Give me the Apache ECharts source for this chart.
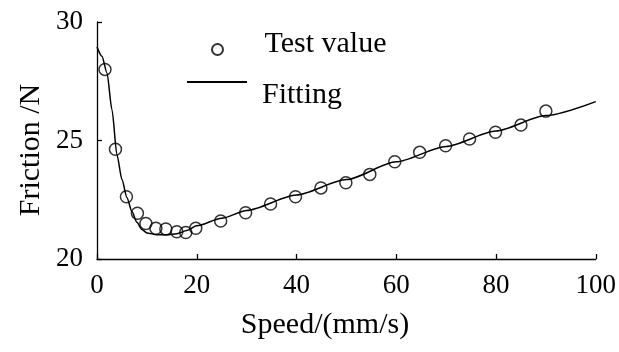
<!DOCTYPE html>
<html>
<head>
<meta charset="utf-8">
<script src="https://cdn.jsdelivr.net/npm/echarts@6/dist/echarts.min.js"></script>
<style>
  html, body { margin: 0; padding: 0; background: #fff; }
  #chart { width: 619px; height: 352px; }
</style>
</head>
<body>
<div id="chart"></div>
<script>
// Measured friction at each sliding speed
const testSpeed = [1.6, 3.7, 5.9, 8.1, 9.8, 11.8, 13.8, 16, 17.8, 19.8, 24.8, 29.8, 34.8, 39.8,
  44.9, 49.9, 54.7, 59.7, 64.7, 69.9, 74.7, 79.9, 85, 90];
const testFriction = [28.0, 24.63, 22.63, 21.93, 21.5, 21.3, 21.27, 21.15, 21.12, 21.3, 21.6, 21.95,
  22.32, 22.63, 23.0, 23.22, 23.57, 24.1, 24.5, 24.78, 25.06, 25.35, 25.65, 26.24];

// Fitted friction curve
const fitSpeed = [0, 1, 2, 3, 4, 5, 6, 7, 8, 9, 10, 12, 14, 16, 18, 20, 25, 30, 40, 50, 60, 70, 80, 90, 100];
const fitFriction = [28.95, 28.55, 27.85, 26.3, 24.4, 23.35, 22.6, 22.0, 21.55, 21.25, 21.1, 21.02,
  21.02, 21.07, 21.2, 21.4, 21.72, 22.05, 22.7, 23.35, 24.1, 24.75, 25.4, 26.05, 26.64];

const xTicks = [0, 20, 40, 60, 80, 100];
const yTicks = [20, 25, 30];

const serif = 'Liberation Serif';
const chart = echarts.init(document.getElementById('chart'), null, { renderer: 'canvas' });

// Legend label style; the padding sets where each key sits beside its label
function legendText(pad) {
  return {
    color: '#000', fontFamily: serif, fontSize: 30,
    rich: { t: { color: '#000', fontFamily: serif, fontSize: 30, padding: pad } }
  };
}

chart.setOption({
  animation: false,
  backgroundColor: '#fff',
  grid: { left: 97, right: 23, top: 22, bottom: 93 },
  xAxis: {
    type: 'value',
    min: xTicks[0], max: xTicks[xTicks.length - 1], interval: 20,
    axisLine: { lineStyle: { color: '#000', width: 1.3 } },
    axisTick: { inside: true, length: 5, lineStyle: { color: '#000', width: 1.3 } },
    axisLabel: { color: '#000', fontFamily: serif, fontSize: 27, margin: 13 },
    splitLine: { show: false }
  },
  yAxis: {
    type: 'value',
    min: yTicks[0], max: yTicks[yTicks.length - 1], interval: 5,
    axisLine: { show: true, lineStyle: { color: '#000', width: 1.3 } },
    axisTick: { show: true, inside: true, length: 5, lineStyle: { color: '#000', width: 1.3 } },
    axisLabel: { color: '#000', fontFamily: serif, fontSize: 27, margin: 14 },
    splitLine: { show: false }
  },
  legend: [
    {
      data: ['Test value'], left: 206, top: 24, orient: 'vertical',
      itemWidth: 60, itemHeight: 11, itemGap: 0,
      formatter: '{t|{name}}',
      textStyle: legendText([0, 0, 11, 12])
    },
    {
      data: [{ name: 'Fitting', icon: 'rect' }], left: 182, top: 75, orient: 'vertical',
      itemWidth: 60, itemHeight: 2, itemGap: 0,
      formatter: '{t|{name}}',
      textStyle: legendText([26, 0, 0, 10])
    }
  ],
  graphic: [
    {
      type: 'text', x: 325, y: 325,
      style: { text: 'Speed/(mm/s)', align: 'center', verticalAlign: 'middle',
        font: '30px "Liberation Serif"', fill: '#000' }
    },
    {
      type: 'text', rotation: Math.PI / 2, x: 31, y: 150,
      style: { text: 'Friction /N', align: 'center', verticalAlign: 'middle',
        font: '30px "Liberation Serif"', fill: '#000' }
    }
  ],
  series: [
    {
      name: 'Fitting', type: 'line', smooth: 0.25, smoothMonotone: 'x', symbol: 'none',
      data: fitSpeed.map((x, i) => [x, fitFriction[i]]),
      lineStyle: { color: '#000', width: 1.5 },
      itemStyle: { color: '#000' },
      z: 3
    },
    {
      name: 'Test value', type: 'scatter', symbol: 'circle', symbolSize: 12,
      data: testSpeed.map((x, i) => [x, testFriction[i]]),
      itemStyle: { color: 'rgba(255,255,255,0)', borderColor: '#000', borderWidth: 1.5 },
      z: 4
    }
  ]
});
</script>
</body>
</html>
